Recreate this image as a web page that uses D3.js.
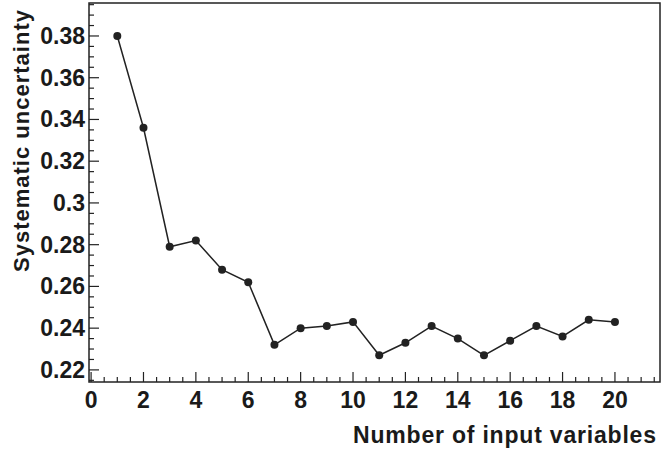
<!DOCTYPE html><html><head><meta charset="utf-8">
<script src="https://cdn.jsdelivr.net/npm/d3@7"></script>
<style>body{margin:0;background:#fff}text{font-family:"Liberation Sans",Arial,sans-serif;font-weight:700;fill:#1a1a1a}</style></head><body>
<svg id="c" width="671" height="449"></svg>
<script>
const nVars=[1,2,3,4,5,6,7,8,9,10,11,12,13,14,15,16,17,18,19,20];
const uncert=[0.380,0.336,0.279,0.282,0.268,0.262,0.232,0.240,0.241,0.243,0.227,0.233,0.241,0.235,0.227,0.234,0.241,0.236,0.244,0.243];
const xTicks=[0,2,4,6,8,10,12,14,16,18,20];
const yTicks=[0.22,0.24,0.26,0.28,0.3,0.32,0.34,0.36,0.38];
const L=89,R=660,T=3,B=382;
const svg=d3.select("#c");
const x=d3.scaleLinear().domain([-0.08,21.72]).range([L,R]);
const y=d3.scaleLinear().domain([0.2142,0.3958]).range([B,T]);
svg.append("rect").attr("x",L).attr("y",T).attr("width",R-L).attr("height",B-T).attr("fill","none").attr("stroke","#222").attr("stroke-width",1.5);
const g=svg.append("g");
d3.range(0,21.6,0.5).forEach(v=>{const maj=v%2===0;g.append("line").attr("x1",x(v)).attr("x2",x(v)).attr("y1",B).attr("y2",B-(maj?10:5)).attr("stroke","#222").attr("stroke-width",1.2);});
d3.range(0.215,0.3951,0.005).forEach(v=>{const maj=Math.abs(Math.round(v*100)/100-v)<1e-6&&Math.round(v*100)%2===0;g.append("line").attr("x1",L).attr("x2",L+(maj?10:5)).attr("y1",y(v)).attr("y2",y(v)).attr("stroke","#222").attr("stroke-width",1.2);});
xTicks.forEach(v=>svg.append("text").attr("x",x(v)).attr("y",B+26).attr("text-anchor","middle").attr("font-size",23).text(v));
yTicks.forEach(v=>svg.append("text").attr("x",L-4).attr("y",y(v)+8).attr("text-anchor","end").attr("font-size",23).text(v));
svg.append("text").attr("x",656).attr("y",443).attr("text-anchor","end").attr("font-size",23).attr("textLength",303).text("Number of input variables");
svg.append("text").attr("transform","translate(29,141) rotate(-90)").attr("text-anchor","middle").attr("font-size",22).attr("textLength",262).text("Systematic uncertainty");
const data=nVars.map((d,i)=>[d,uncert[i]]);
svg.append("path").attr("d",d3.line().x(d=>x(d[0])).y(d=>y(d[1]))(data)).attr("fill","none").attr("stroke","#222").attr("stroke-width",1.5);
svg.selectAll("circle").data(data).join("circle").attr("cx",d=>x(d[0])).attr("cy",d=>y(d[1])).attr("r",4).attr("fill","#222");
</script></body></html>
